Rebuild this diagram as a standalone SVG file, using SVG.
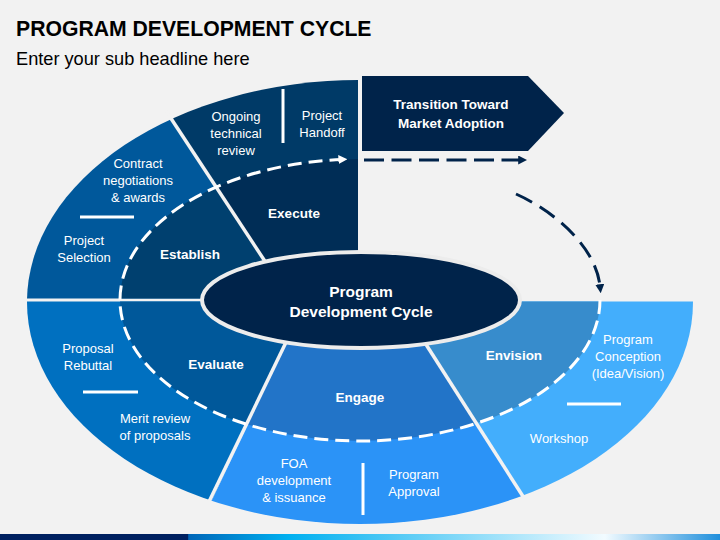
<svg xmlns="http://www.w3.org/2000/svg" width="720" height="540" viewBox="0 0 720 540">
<defs>
<style>
.t{font-family:"Liberation Sans",Arial,sans-serif;font-size:13px;fill:#fff;text-anchor:middle}
.b{font-family:"Liberation Sans",Arial,sans-serif;font-size:13.5px;font-weight:bold;fill:#fff;text-anchor:middle}
.div{stroke:#f2f2f2;stroke-width:3.5;fill:none}
.sep{stroke:#fff;stroke-width:3;fill:none}
</style>
<linearGradient id="bar" x1="0" y1="0" x2="720" y2="0" gradientUnits="userSpaceOnUse">
<stop offset="0" stop-color="#002060"/>
<stop offset="0.261" stop-color="#002060"/>
<stop offset="0.262" stop-color="#0066b8"/>
<stop offset="0.4" stop-color="#00b0f0"/>
<stop offset="0.84" stop-color="#f2fbff"/>
<stop offset="1" stop-color="#1f8fdc"/>
</linearGradient>
<clipPath id="cEst"><polygon points="-10,298.5 289.3,298.5 119.4,40 -10,40"/></clipPath>
<clipPath id="cExe"><polygon points="289.3,298.5 358,298.5 358,40 119.4,40"/></clipPath>
<clipPath id="cEva"><polygon points="-10,301.5 305.6,301.5 190.8,545 -10,545"/></clipPath>
<clipPath id="cEng"><polygon points="305.6,301.5 397.6,301.5 553,545 190.8,545"/></clipPath>
<clipPath id="cEnv"><polygon points="397.6,301.5 730,301.5 730,545 553,545"/></clipPath>
<marker id="aw" viewBox="0 0 10 10" refX="4" refY="5" markerWidth="3" markerHeight="3" orient="auto" markerUnits="strokeWidth"><path d="M0,0 L10,5 L0,10 z" fill="#fff"/></marker>
<marker id="an" viewBox="0 0 10 10" refX="2" refY="5" markerWidth="3" markerHeight="3" orient="auto" markerUnits="strokeWidth"><path d="M0,0 L10,5 L0,10 z" fill="#00234a"/></marker>
</defs>
<rect width="720" height="540" fill="#f2f2f2"/>
<rect x="0" y="534" width="720" height="6" fill="url(#bar)"/>
<text x="16" y="36" style="font-family:'Liberation Sans',Arial,sans-serif;font-size:21.2px;font-weight:bold;fill:#000">PROGRAM DEVELOPMENT CYCLE</text>
<text x="16" y="65" style="font-family:'Liberation Sans',Arial,sans-serif;font-size:18.2px;fill:#000">Enter your sub headline here</text>

<g id="establish" clip-path="url(#cEst)">
<ellipse cx="360" cy="302" rx="333" ry="222" fill="#00589b"/>
<ellipse cx="360" cy="300" rx="240" ry="141" fill="#00406f"/>
</g>
<g id="execute" clip-path="url(#cExe)">
<ellipse cx="360" cy="302" rx="333" ry="222" fill="#003a67"/>
<ellipse cx="360" cy="300" rx="240" ry="141" fill="#002d56"/>
</g>
<g id="evaluate" clip-path="url(#cEva)">
<ellipse cx="360" cy="302" rx="333" ry="222" fill="#0070c0"/>
<ellipse cx="360" cy="300" rx="240" ry="141" fill="#00589a"/>
</g>
<g id="engage" clip-path="url(#cEng)">
<ellipse cx="360" cy="302" rx="333" ry="222" fill="#2b93f7"/>
<ellipse cx="360" cy="300" rx="240" ry="141" fill="#2274c8"/>
</g>
<g id="envision" clip-path="url(#cEnv)">
<ellipse cx="360" cy="302" rx="333" ry="222" fill="#43aefc"/>
<ellipse cx="360" cy="300" rx="240" ry="141" fill="#378ccc"/>
</g>

<g id="dividers">
<line class="div" x1="272" y1="272" x2="164.8" y2="109"/>
<line class="div" x1="290" y1="334" x2="205" y2="510"/>
<line class="div" x1="420" y1="335" x2="528.5" y2="505"/>
<line class="sep" x1="80" y1="217" x2="134" y2="217"/>
<line class="sep" x1="83" y1="392" x2="138" y2="392"/>
<line class="sep" x1="283" y1="89" x2="283" y2="143"/>
<line class="sep" x1="363" y1="463" x2="363" y2="515"/>
<line class="sep" x1="567" y1="404" x2="621" y2="404"/>
</g>

<g id="connectors">
<path d="M600,300 A240,141 0 1 1 342,159.4" fill="none" stroke="#fff" stroke-width="3" stroke-dasharray="14 7" marker-end="url(#aw)"/>
<path d="M364,160 L520,160" fill="none" stroke="#00234a" stroke-width="3" stroke-dasharray="20 7.5" marker-end="url(#an)"/>
<path d="M516,194 C556,212 596,248 600,286" fill="none" stroke="#00234a" stroke-width="3" stroke-dasharray="18 9" marker-end="url(#an)"/>
</g>

<g id="center">
<ellipse cx="361" cy="300" rx="159" ry="48" fill="#00234a" stroke="#ececec" stroke-width="4"/>
<text class="b" style="font-size:15.5px" x="361" y="296.5">Program</text>
<text class="b" style="font-size:15.5px" x="361" y="316.5">Development Cycle</text>
</g>

<g id="transition">
<polygon points="362,76 528,76 564,113 528,151 362,151" fill="#00234a"/>
<text class="b" x="451" y="109">Transition Toward</text>
<text class="b" x="451" y="128">Market Adoption</text>
</g>

<g id="labels">
<text class="t" x="236" y="121">Ongoing</text>
<text class="t" x="236" y="138">technical</text>
<text class="t" x="236" y="155">review</text>
<text class="t" x="322" y="120">Project</text>
<text class="t" x="322" y="137">Handoff</text>
<text class="b" x="294" y="218">Execute</text>
<text class="t" x="138" y="168">Contract</text>
<text class="t" x="138" y="185">negotiations</text>
<text class="t" x="138" y="202">&amp; awards</text>
<text class="t" x="84" y="245">Project</text>
<text class="t" x="84" y="262">Selection</text>
<text class="b" x="190" y="259">Establish</text>
<text class="t" x="88" y="353">Proposal</text>
<text class="t" x="88" y="370">Rebuttal</text>
<text class="b" x="216" y="369">Evaluate</text>
<text class="t" x="155" y="423">Merit review</text>
<text class="t" x="155" y="440">of proposals</text>
<text class="b" x="360" y="402">Engage</text>
<text class="t" x="294" y="468">FOA</text>
<text class="t" x="294" y="485">development</text>
<text class="t" x="294" y="502">&amp; issuance</text>
<text class="t" x="414" y="479">Program</text>
<text class="t" x="414" y="496">Approval</text>
<text class="b" x="514" y="360">Envision</text>
<text class="t" x="628" y="344">Program</text>
<text class="t" x="628" y="361">Conception</text>
<text class="t" x="628" y="378">(Idea/Vision)</text>
<text class="t" x="559" y="443">Workshop</text>
</g>
</svg>
